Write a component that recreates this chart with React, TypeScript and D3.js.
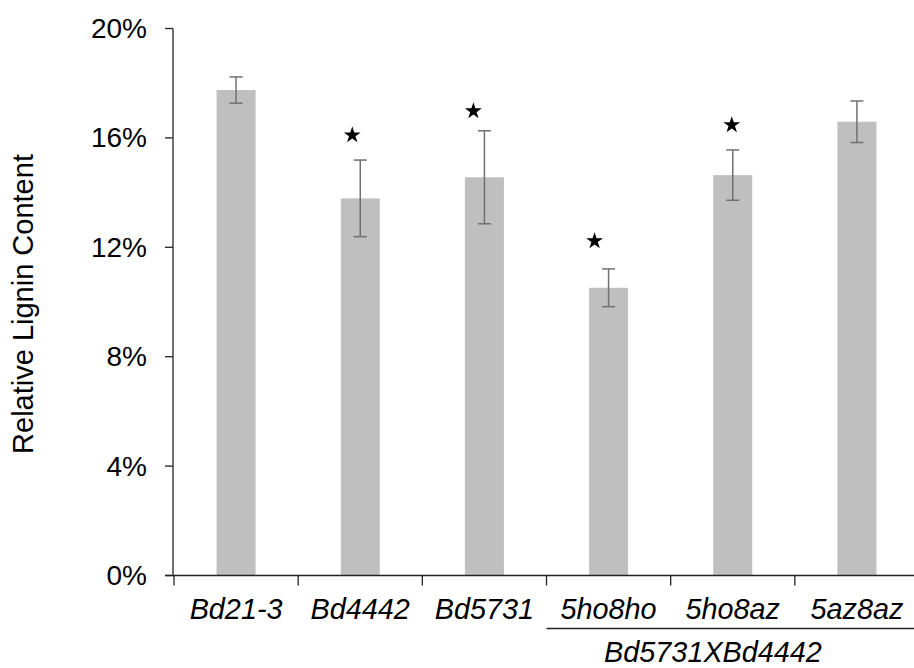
import React from "react";
import * as d3 from "d3";

const categories = ["Bd21-3", "Bd4442", "Bd5731", "5ho8ho", "5ho8az", "5az8az"];
const values = [17.75, 13.79, 14.56, 10.52, 14.64, 16.59];
const errors = [0.48, 1.4, 1.7, 0.69, 0.92, 0.76];
const significant = [false, true, true, true, true, false];
const starLevel = [0, 16.1, 16.98, 12.23, 16.47, 0];
const starDx = [0, -8, -11, -14, -1, 0];
const yTicks = [0, 4, 8, 12, 16, 20];
const groupLabel = "Bd5731XBd4442";
const groupMembers = ["5ho8ho", "5ho8az", "5az8az"];
const yLabel = "Relative Lignin Content";

const W = 914;
const H = 668;
const FONT = "'Liberation Sans', Arial, sans-serif";

export default function App() {
  const axisX = 173;
  const x = d3.scaleBand<string>().domain(categories).range([174, 919]).paddingInner(0).paddingOuter(0);
  const y = d3.scaleLinear().domain([0, 20]).range([575.5, 28.5]);
  const barW = 39;
  const capW = 13;
  const star = d3.symbol().type(d3.symbolStar).size(88)() as string;
  const bw = x.bandwidth();
  const gStart = x(groupMembers[0])!;
  const tickXs = categories.map((c) => x(c)!).concat([x(categories[categories.length - 1])! + bw]);

  return (
    <svg width={W} height={H} style={{ position: "absolute", left: 0, top: 0, background: "#fff" }}>
      {categories.map((c, i) => {
        const cx = x(c)! + bw / 2;
        return (
          <rect key={c} x={cx - barW / 2} y={y(values[i])} width={barW} height={y(0) - y(values[i])} fill="#bfbfbf" />
        );
      })}
      {categories.map((c, i) => {
        const cx = x(c)! + bw / 2;
        const t = y(values[i] + errors[i]);
        const b = y(values[i] - errors[i]);
        return (
          <g key={"e" + c} stroke="#707070" strokeWidth={1.5}>
            <line x1={cx} x2={cx} y1={t} y2={b} />
            <line x1={cx - capW / 2} x2={cx + capW / 2} y1={t} y2={t} />
            <line x1={cx - capW / 2} x2={cx + capW / 2} y1={b} y2={b} />
          </g>
        );
      })}
      {categories.map((c, i) =>
        significant[i] ? (
          <path
            key={"s" + c}
            d={star}
            fill="#000"
            transform={`translate(${x(c)! + bw / 2 + starDx[i]},${y(starLevel[i])})`}
          />
        ) : null
      )}
      <line x1={axisX} x2={axisX} y1={y(20)} y2={y(0)} stroke="#222" strokeWidth={1.3} />
      {yTicks.map((t) => (
        <g key={"yt" + t}>
          <line x1={165} x2={axisX} y1={y(t)} y2={y(t)} stroke="#222" strokeWidth={1.3} />
          <text
            x={147}
            y={y(t)}
            textAnchor="end"
            dominantBaseline="central"
            fontFamily={FONT}
            fontSize={28}
            fill="#000"
          >
            {t + "%"}
          </text>
        </g>
      ))}
      <line x1={165} x2={W} y1={y(0)} y2={y(0)} stroke="#222" strokeWidth={1.3} />
      {tickXs.map((tx, i) => (
        <line key={"xt" + i} x1={tx} x2={tx} y1={y(0)} y2={y(0) + 10} stroke="#222" strokeWidth={1.3} />
      ))}
      {categories.map((c) => (
        <text
          key={"xl" + c}
          x={x(c)! + bw / 2}
          y={619}
          textAnchor="middle"
          fontFamily={FONT}
          fontStyle="italic"
          fontSize={28.8}
          fill="#000"
        >
          {c}
        </text>
      ))}
      <line x1={gStart} x2={W} y1={628.5} y2={628.5} stroke="#222" strokeWidth={1.3} />
      <text
        x={713}
        y={662}
        textAnchor="middle"
        fontFamily={FONT}
        fontStyle="italic"
        fontSize={28.8}
        fill="#000"
      >
        {groupLabel}
      </text>
      <text
        transform="translate(33,304) rotate(-90)"
        textAnchor="middle"
        fontFamily={FONT}
        fontSize={29}
        fill="#000"
      >
        {yLabel}
      </text>
    </svg>
  );
}
